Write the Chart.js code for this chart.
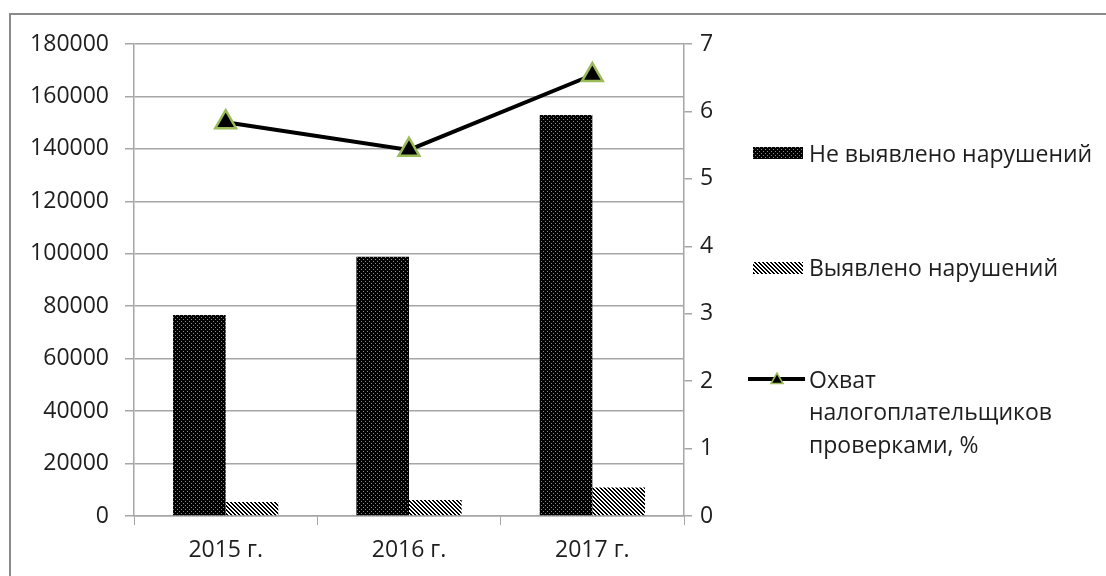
<!DOCTYPE html>
<html>
<head>
<meta charset="utf-8">
<script src="https://cdn.jsdelivr.net/npm/chart.js@4/dist/chart.umd.min.js"></script>
<style>
  html, body { margin: 0; padding: 0; background: #fff; overflow: hidden; }
  #wrap { position: relative; width: 1106px; height: 576px; }
  #frame { position: absolute; left: 9px; top: 13px; width: 1200px; height: 700px; border: 2px solid #8a8a8a; }
  #chart { position: absolute; left: 0; top: 0; }
</style>
</head>
<body>
<div id="wrap">
  <div id="frame"></div>
  <canvas id="chart" width="1106" height="576"></canvas>
</div>
<script>
// categories and series
const years = ['2015 г.', '2016 г.', '2017 г.'];
const noViolations = [76700, 98900, 152900];
const violations = [5300, 6100, 10900];
const coverage = [5.84, 5.43, 6.54];

const labelNoViol = 'Не выявлено нарушений';
const labelViol = 'Выявлено нарушений';
const labelCoverage = ['Охват', 'налогоплательщиков', 'проверками, %'];

const FONT = '"Open Sans", "Noto Sans", sans-serif';
const TXT = '#1e1e1e';

// fill patterns like the excel ones
function dotPattern(ctx) {
  const c = document.createElement('canvas');
  c.width = 4; c.height = 4;
  const p = c.getContext('2d');
  p.fillStyle = '#000'; p.fillRect(0, 0, 4, 4);
  p.fillStyle = '#8a8a8a';
  p.fillRect(1, 1, 1, 1); p.fillRect(3, 3, 1, 1);
  return ctx.createPattern(c, 'repeat');
}
function hatchPattern(ctx) {
  const c = document.createElement('canvas');
  c.width = 4; c.height = 4;
  const p = c.getContext('2d');
  p.fillStyle = '#fff'; p.fillRect(0, 0, 4, 4);
  p.fillStyle = '#000';
  for (let y = 0; y < 4; y++) {
    p.fillRect(y % 4, y, 1, 1);
    p.fillRect((y + 1) % 4, y, 1, 1);
  }
  return ctx.createPattern(c, 'repeat');
}

const canvas = document.getElementById('chart');
const ctx = canvas.getContext('2d');
const dots = dotPattern(ctx);
const hatch = hatchPattern(ctx);

const legendPlugin = {
  id: 'sideLegend',
  afterDraw(chart) {
    const c = chart.ctx;
    c.save();
    c.font = '23px ' + FONT;
    c.fillStyle = TXT;
    c.textBaseline = 'alphabetic';
    c.textAlign = 'left';

    c.fillStyle = dots;
    c.fillRect(753, 147, 50, 12);
    c.fillStyle = TXT;
    c.fillText(labelNoViol, 809, 162);

    c.fillStyle = hatch;
    c.fillRect(753, 262, 50, 12);
    c.fillStyle = TXT;
    c.fillText(labelViol, 809, 276);

    c.strokeStyle = '#000';
    c.lineWidth = 4;
    c.beginPath(); c.moveTo(748, 379); c.lineTo(805, 379); c.stroke();
    c.beginPath();
    const r = 7, cx = 777, cy = 380;
    c.moveTo(cx, cy - r);
    c.lineTo(cx + r * 0.866, cy + r * 0.5);
    c.lineTo(cx - r * 0.866, cy + r * 0.5);
    c.closePath();
    c.fillStyle = '#000'; c.fill();
    c.lineWidth = 1.5; c.strokeStyle = '#9bbb59'; c.stroke();

    c.fillStyle = TXT;
    c.fillText(labelCoverage[0], 809, 388);
    c.fillText(labelCoverage[1], 809, 420);
    c.fillText(labelCoverage[2], 809, 453);
    c.restore();
  }
};

const tickFont = { family: FONT, size: 23 };

new Chart(ctx, {
  type: 'bar',
  data: {
    labels: years,
    datasets: [
      { type: 'line', label: labelCoverage.join(' '), data: coverage, yAxisID: 'y1', order: 0,
        borderColor: '#000', borderWidth: 4, tension: 0,
        pointStyle: 'triangle', pointRadius: 12, pointHoverRadius: 12,
        pointBackgroundColor: '#000', pointBorderColor: '#9bbb59', pointBorderWidth: 2.5 },
      { label: labelNoViol, data: noViolations, backgroundColor: dots, yAxisID: 'y', order: 1,
        barPercentage: 1, categoryPercentage: 0.574 },
      { label: labelViol, data: violations, backgroundColor: hatch, yAxisID: 'y', order: 2,
        barPercentage: 1, categoryPercentage: 0.574 }
    ]
  },
  options: {
    responsive: false,
    animation: false,
    devicePixelRatio: 1,
    layout: { padding: { left: 0, top: 44, right: 362, bottom: 0 } },
    plugins: { legend: { display: false }, tooltip: { enabled: false } },
    scales: {
      x: {
        grid: { display: true, drawOnChartArea: false, offset: true, color: '#a6a6a6', tickLength: 9 },
        border: { color: '#a6a6a6', width: 1.5 },
        ticks: { color: TXT, font: tickFont, padding: 12, maxRotation: 0 },
        afterFit(s) { s.height = 60; }
      },
      y: {
        position: 'left', min: 0, max: 180000,
        ticks: { stepSize: 20000, color: TXT, font: tickFont, padding: 16, callback: v => String(v) },
        grid: { color: '#a6a6a6', lineWidth: 1.5, tickLength: 9 },
        border: { color: '#a6a6a6', width: 1.5 },
        afterFit(s) { s.width = 134; }
      },
      y1: {
        position: 'right', min: 0, max: 7,
        ticks: { stepSize: 1, color: TXT, font: tickFont, padding: 8 },
        grid: { drawOnChartArea: false, color: '#a6a6a6', lineWidth: 1.5, tickLength: 8 },
        border: { color: '#a6a6a6', width: 1.5 },
        afterFit(s) { s.width = 60; }
      }
    }
  },
  plugins: [legendPlugin]
});
</script>
</body>
</html>
